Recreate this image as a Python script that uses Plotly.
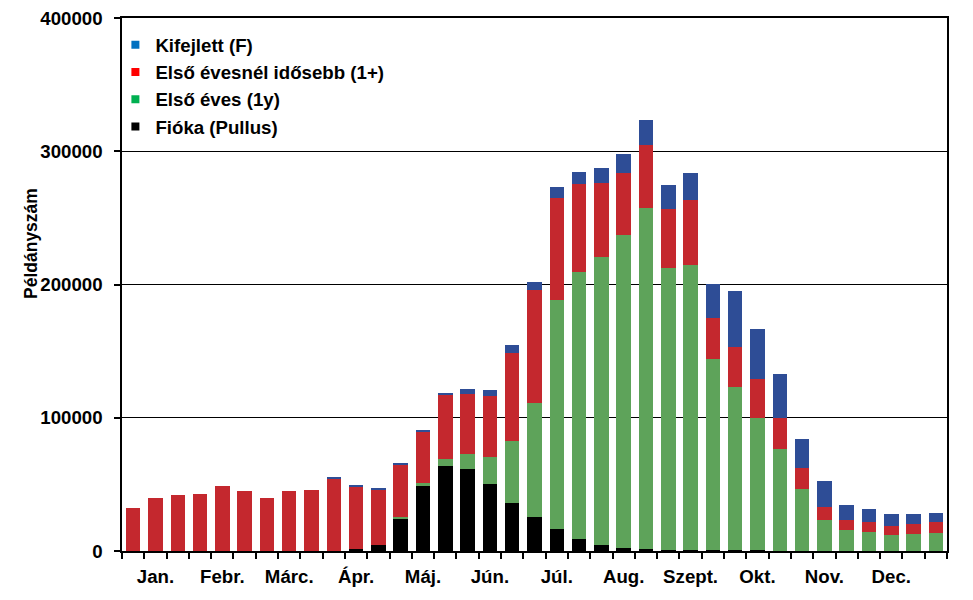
import plotly.graph_objects as go

months = ["Jan.", "Febr.", "Márc.", "Ápr.", "Máj.", "Jún.", "Júl.", "Aug.", "Szept.", "Okt.", "Nov.", "Dec."]
n_bars = 37

pullus = [0]*10 + [1500, 4200, 24300, 49000, 63900, 61700, 50400, 36100, 25600, 16500,
                   9000, 4500, 2500, 1500, 1000, 1000, 800, 800, 700, 300] + [0]*7
elso_eves = [0]*12 + [1000, 2300, 5300, 11200, 20300, 46600, 85700, 171700, 200200, 216000,
                      234600, 255900, 211300, 213500, 143600, 122500, 99300, 76400, 46600, 23300,
                      15800, 14300, 12000, 12800, 13500]
idosebb = [32500, 40100, 42300, 43100, 49100, 45300, 40100, 45300, 46100, 54100,
           46900, 42100, 39100, 38300, 48100, 45100, 45900, 66200, 84400, 76900,
           66200, 55700, 46600, 47400, 44300, 49100, 30300, 29600, 28800, 23300,
           15800, 9800, 7500, 7500, 7000, 7500, 8300]
kifejlett = [0]*9 + [800, 700, 800, 2000, 1400, 1500, 3800, 4400, 6000, 6000, 8100,
                     9000, 11300, 14300, 18800, 18100, 20100, 25500, 42100, 37600, 33100,
                     21800, 19500, 11300, 9800, 8800, 7500, 6800]

x = list(range(n_bars))

FONT = "Liberation Sans, Arial, sans-serif"
FS = 18.67

fig = go.Figure()
series = [
    ("Fióka (Pullus)", pullus, "#000000"),
    ("Első éves (1y)", elso_eves, "#5EA35A"),
    ("Első évesnél idősebb (1+)", idosebb, "#C4282E"),
    ("Kifejlett (F)", kifejlett, "#2E4D96"),
]
for name, vals, col in series:
    fig.add_trace(go.Bar(x=x, y=vals, name=name, marker=dict(color=col, line=dict(width=0)),
                         showlegend=False))

legend_items = [
    ("Kifejlett (F)", "#0070C0"),
    ("Első évesnél idősebb (1+)", "#FF0000"),
    ("Első éves (1y)", "#00B050"),
    ("Fióka (Pullus)", "#000000"),
]
for name, col in legend_items:
    fig.add_trace(go.Scatter(x=[None], y=[None], mode="markers", name=name,
                             marker=dict(symbol="square", size=8, color=col)))

fig.update_layout(
    width=973, height=600,
    barmode="stack", bargap=0.35,
    plot_bgcolor="white", paper_bgcolor="white",
    margin=dict(l=114, r=34, t=10, b=57, autoexpand=False),
    font=dict(family=FONT, size=FS, color="black", weight="bold"),
    legend=dict(x=-0.008, y=0.985, xanchor="left", yanchor="top", traceorder="normal",
                bgcolor="rgba(0,0,0,0)", font=dict(size=FS, weight="bold"),
                tracegroupgap=0, itemwidth=30),
    xaxis=dict(range=[-0.5, n_bars - 0.5], tickmode="array", automargin=False,
               tickvals=[1 + 3*i for i in range(12)], ticktext=months,
               ticks="outside", ticklen=8, tickcolor="rgba(0,0,0,0)",
               showgrid=False, zeroline=False, ticklabeloverflow="allow",
               showline=True, linecolor="black", linewidth=1.5, mirror=True,
               minor=dict(tickmode="array", tickvals=[i - 0.5 for i in range(n_bars + 1)],
                          ticks="outside", ticklen=6, tickcolor="black", tickwidth=1.5,
                          showgrid=False),
               tickfont=dict(size=FS, weight="bold")),
    yaxis=dict(range=[0, 400000], tickmode="array", automargin=False,
               tickvals=[0, 100000, 200000, 300000, 400000],
               ticktext=["0", "100000", "200000", "300000", "400000"],
               ticks="outside", ticklen=6, tickcolor="black", tickwidth=1.5,
               ticklabelstandoff=8, ticklabeloverflow="allow",
               showgrid=True, gridcolor="black", gridwidth=1.2,
               zeroline=False,
               showline=True, linecolor="black", linewidth=1.5, mirror=True,
               tickfont=dict(size=FS, weight="bold")),
)

fig.add_annotation(text="Példányszám", xref="paper", yref="paper",
                   x=(31 - 122) / 825, y=(551 - 244) / 533,
                   xanchor="center", yanchor="middle", textangle=-90, showarrow=False,
                   font=dict(size=17.5, weight="bold", family=FONT))

fig.write_html("out.html")
